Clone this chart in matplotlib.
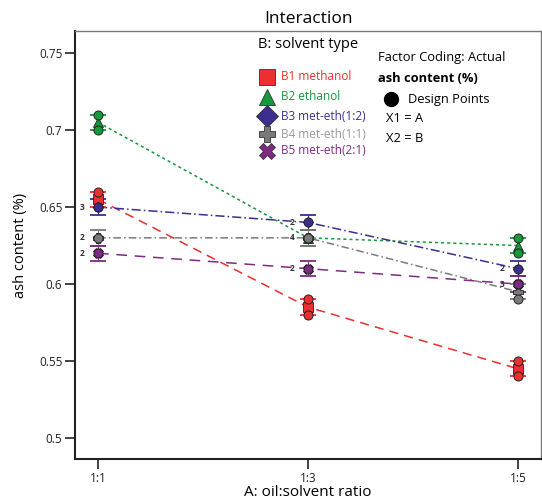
import matplotlib
matplotlib.use("Agg")
import matplotlib.pyplot as plt

plt.rcParams["font.family"] = ["Open Sans", "DejaVu Sans"]

RATIOS = ["1:1", "1:3", "1:5"]
SOLVENTS = ["B1 methanol", "B2 ethanol", "B3 met-eth(1:2)", "B4 met-eth(1:1)", "B5 met-eth(2:1)"]

# model means per solvent at each ratio
MEAN_B1 = [0.655, 0.585, 0.545]
MEAN_B2 = [0.705, 0.630, 0.625]
MEAN_B3 = [0.650, 0.640, 0.610]
MEAN_B4 = [0.630, 0.630, 0.595]
MEAN_B5 = [0.620, 0.610, 0.600]
LSD_HALF = 0.005

# design points (ratio index, value)
PTS_B1 = [(0, 0.66), (0, 0.65), (1, 0.59), (1, 0.58), (2, 0.55), (2, 0.54)]
PTS_B2 = [(0, 0.71), (0, 0.70), (1, 0.63), (2, 0.63), (2, 0.62)]
PTS_B3 = [(0, 0.65), (1, 0.64), (2, 0.61)]
PTS_B4 = [(0, 0.63), (1, 0.63), (2, 0.60), (2, 0.59)]
PTS_B5 = [(0, 0.62), (1, 0.61), (2, 0.60)]

# replicate counts shown beside points
COUNT_LABELS = [(0, 0.65, "3"), (0, 0.63, "2"), (0, 0.62, "2"),
                (1, 0.64, "2"), (1, 0.63, "4"), (1, 0.61, "2"),
                (2, 0.61, "2"), (2, 0.60, "3")]

COLORS = ["#ec2f2f", "#16983c", "#3c2e8e", "#7a7a7a", "#7d2a82"]
TEXT_COLORS = ["#ec2f2f", "#16983c", "#3c2e8e", "#9a9a9a", "#7d2a82"]
MARKERS = ["s", "^", "D", "P", "X"]
MEAN_MS = [6.5, 6.5, 5.0, 6.5, 6.5]
DASHES = [(6, 4), (2, 2), (6, 2, 1, 2), (5, 2, 1, 2), (7, 5)]

means = [MEAN_B1, MEAN_B2, MEAN_B3, MEAN_B4, MEAN_B5]
points = [PTS_B1, PTS_B2, PTS_B3, PTS_B4, PTS_B5]

fig = plt.figure(figsize=(5.42, 5.04), dpi=100)
ax = fig.add_axes([75 / 542, 1 - 459 / 504, 466 / 542, 428 / 504])
x = list(range(len(RATIOS)))

for i in range(5):
    ax.plot(x, means[i], color=COLORS[i], lw=1.1, dashes=DASHES[i], zorder=2)

for i in range(5):
    ax.errorbar(x, means[i], yerr=LSD_HALF, fmt="none", ecolor=COLORS[i],
                elinewidth=0.8, capsize=6, capthick=1.3, zorder=3)
    ax.plot(x, means[i], linestyle="none", marker=MARKERS[i], ms=MEAN_MS[i],
            mfc=COLORS[i], mec="#222222", mew=0.6, zorder=4)

for i in range(5):
    px = [p[0] for p in points[i]]
    py = [p[1] for p in points[i]]
    ax.plot(px, py, linestyle="none", marker="o", ms=6.5, mfc=COLORS[i],
            mec="#222222", mew=0.7, zorder=5 + i)

for xi, yv, s in COUNT_LABELS:
    ax.text(xi - 0.075, yv, s, fontsize=6, ha="center", va="center",
            color="#333333", fontweight="bold", zorder=12)

ax.set_xlim(-0.11, 2.11)
ax.set_ylim(0.4864, 0.7643)
ax.set_xticks(x)
ax.set_xticklabels(RATIOS)
ax.set_yticks([0.5, 0.55, 0.6, 0.65, 0.7, 0.75])
ax.set_yticklabels(["0.5", "0.55", "0.6", "0.65", "0.7", "0.75"])
ax.tick_params(axis="both", direction="out", length=7, width=1.2,
               labelsize=8.5, colors="#222222", pad=2)
for side in ["left", "bottom"]:
    ax.spines[side].set_linewidth(1.5)
    ax.spines[side].set_color("#222222")
for side in ["top", "right"]:
    ax.spines[side].set_linewidth(1.0)
    ax.spines[side].set_color("#777777")

ax.set_xlabel("A: oil:solvent ratio", fontsize=11, labelpad=0)
ax.set_ylabel("ash content (%)", fontsize=10.5, labelpad=8)
ax.set_title("Interaction", fontsize=12.5, pad=6)

# legend block drawn in pixel coordinates
def px2fig(px, py):
    return px / 542, 1 - py / 504

fig.text(*px2fig(258, 45), "B: solvent type", fontsize=10.5, va="center", ha="left")
row_y = [77, 97, 116, 134, 151]
for i in range(5):
    fx, fy = px2fig(267, row_y[i])
    fig.lines.append(matplotlib.lines.Line2D([fx], [fy], transform=fig.transFigure,
                     marker=MARKERS[i], ms=11, mfc=COLORS[i], mec="#333333",
                     mew=0.6, linestyle="none"))
    fig.text(*px2fig(281, row_y[i]), SOLVENTS[i], fontsize=8.5,
             color=TEXT_COLORS[i], va="center", ha="left")

fig.text(*px2fig(378, 58), "Factor Coding: Actual", fontsize=9.3, va="center")
fig.text(*px2fig(378, 79), "ash content (%)", fontsize=9.3, fontweight="bold", va="center")
cx, cy = px2fig(391, 99)
fig.lines.append(matplotlib.lines.Line2D([cx], [cy], transform=fig.transFigure,
                 marker="o", ms=10, mfc="black", mec="black", linestyle="none"))
fig.text(*px2fig(408, 99), "Design Points", fontsize=9.3, va="center")
fig.text(*px2fig(386, 119), "X1 = A", fontsize=9.3, va="center")
fig.text(*px2fig(386, 139), "X2 = B", fontsize=9.3, va="center")

fig.savefig("out.png", dpi=100)
